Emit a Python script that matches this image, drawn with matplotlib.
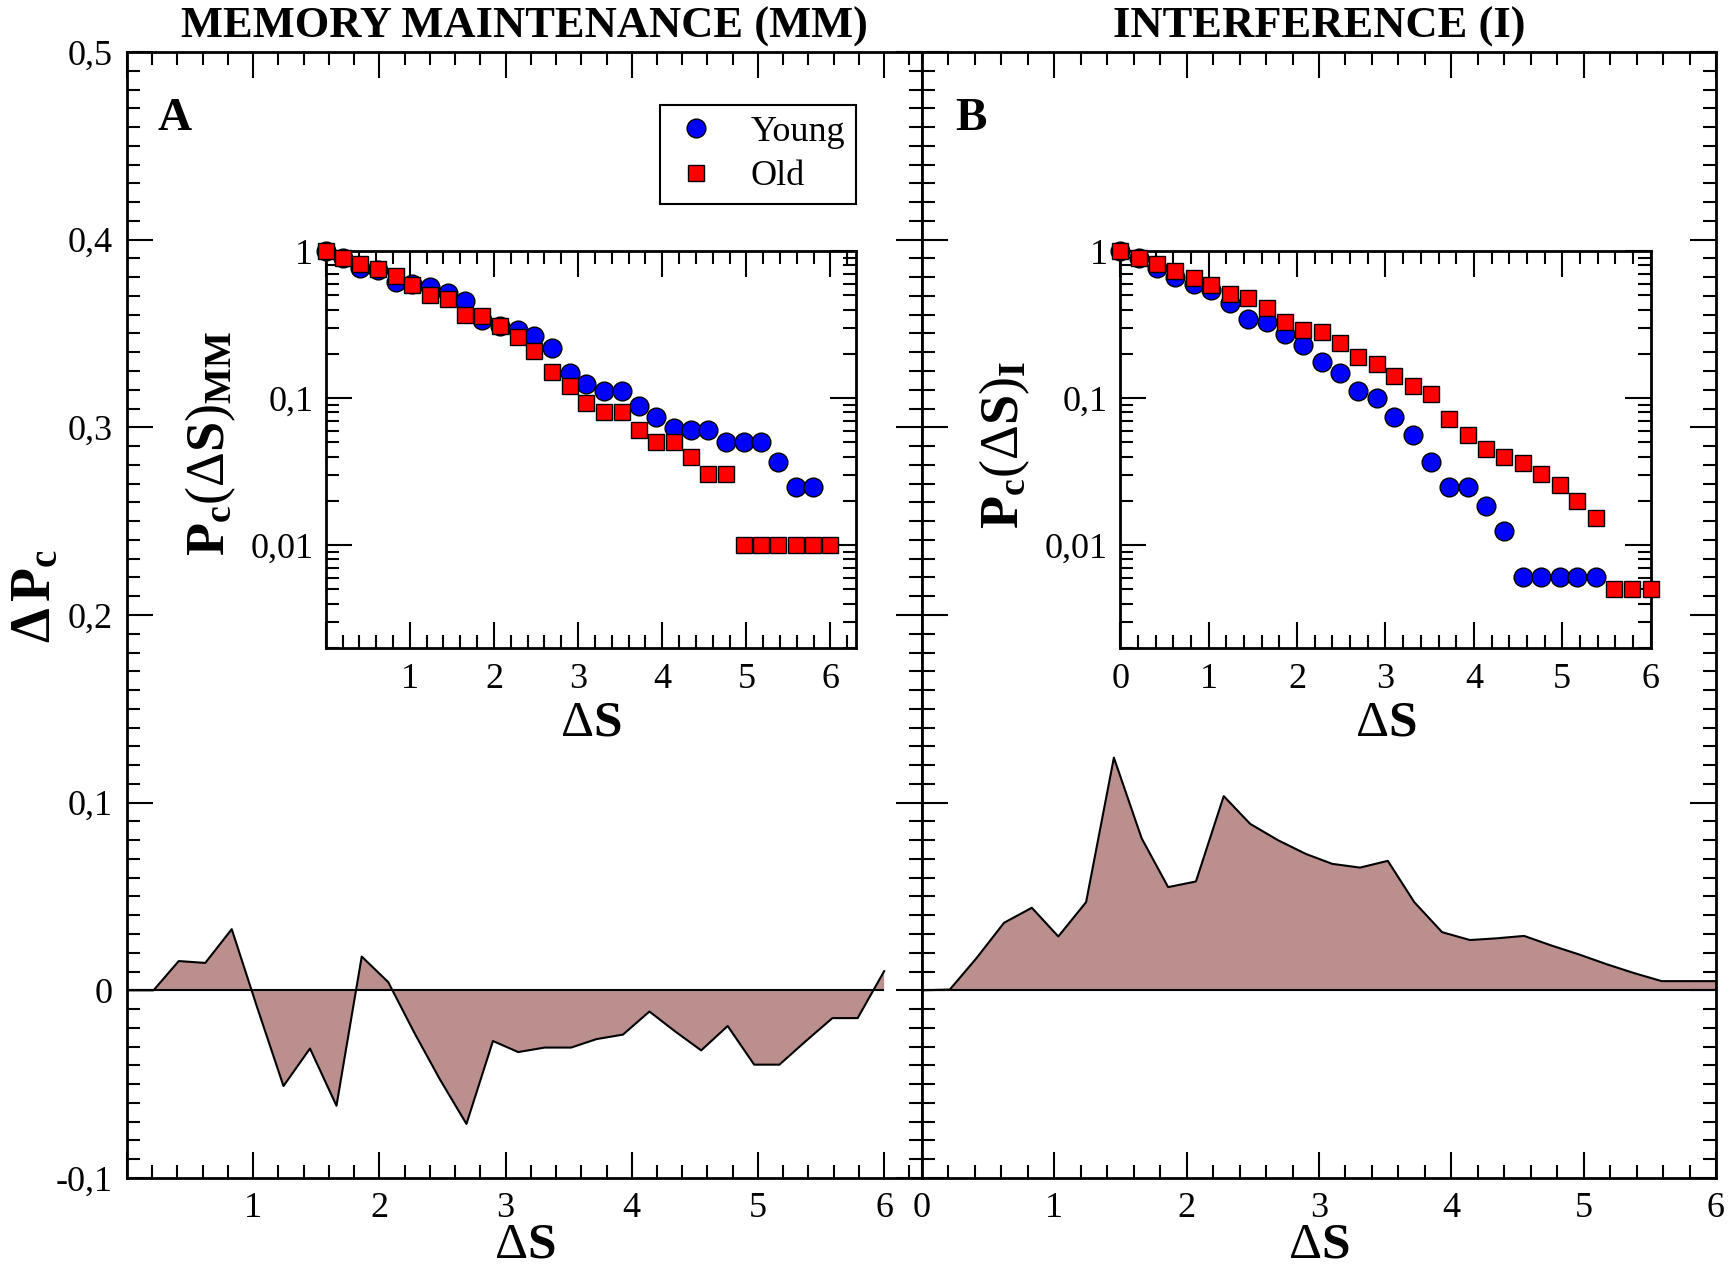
import matplotlib
matplotlib.use('Agg')
import matplotlib.pyplot as plt
from matplotlib.ticker import MultipleLocator, FixedLocator, LogLocator, FuncFormatter, NullFormatter

plt.rcParams['font.family'] = ['Liberation Serif', 'DejaVu Serif']
plt.rcParams['mathtext.fontset'] = 'custom'
plt.rcParams['mathtext.rm'] = 'Liberation Serif'
plt.rcParams['mathtext.bf'] = 'Liberation Serif:bold'
plt.rcParams['mathtext.it'] = 'Liberation Serif:italic'

# Delta S bins
ds = [0.0, 0.21, 0.41, 0.62, 0.83, 1.03, 1.24, 1.45, 1.66, 1.86, 2.07, 2.28, 2.48,
      2.69, 2.90, 3.10, 3.31, 3.52, 3.72, 3.93, 4.14, 4.34, 4.55, 4.76, 4.97, 5.17,
      5.38, 5.59, 5.79, 6.0]

# panel A: memory maintenance
dpc_mm = [0.0, 0.0, 0.0156, 0.0146, 0.0326, -0.0088, -0.0510, -0.031, -0.0615, 0.018,
          0.0044, -0.023, -0.0475, -0.0712, -0.027, -0.0329, -0.0305, -0.0305, -0.026,
          -0.0236, -0.0113, -0.0217, -0.032, -0.019, -0.0396, -0.0396, -0.027, -0.0148,
          -0.0148, 0.0102]
young_mm = [1.0, 0.894, 0.767, 0.74, 0.62, 0.60, 0.57, 0.52, 0.455, 0.337, 0.31, 0.29,
            0.266, 0.22, 0.149, 0.125, 0.111, 0.111, 0.088, 0.074, 0.063, 0.061, 0.061,
            0.050, 0.050, 0.050, 0.037, 0.0249, 0.0249]
old_mm = [1.0, 0.894, 0.81, 0.75, 0.68, 0.59, 0.50, 0.47, 0.37, 0.36, 0.31, 0.26, 0.21,
          0.151, 0.12, 0.092, 0.080, 0.080, 0.061, 0.050, 0.050, 0.040, 0.0306, 0.0306,
          0.010, 0.010, 0.010, 0.010, 0.010, 0.010]

# panel B: interference
dpc_i = [0.0, 0.0004, 0.017, 0.036, 0.044, 0.0287, 0.047, 0.124, 0.081, 0.055, 0.058,
         0.1035, 0.0887, 0.080, 0.0727, 0.0674, 0.0654, 0.069, 0.047, 0.031, 0.0268,
         0.0277, 0.029, 0.0238, 0.019, 0.014, 0.0092, 0.0049, 0.0049, 0.0049]
young_i = [1.0, 0.894, 0.767, 0.667, 0.60, 0.54, 0.445, 0.344, 0.327, 0.273, 0.229,
           0.177, 0.149, 0.111, 0.100, 0.074, 0.056, 0.037, 0.0249, 0.0249, 0.0186,
           0.0125, 0.0061, 0.0061, 0.0061, 0.0061, 0.0061]
old_i = [1.0, 0.894, 0.81, 0.73, 0.66, 0.59, 0.51, 0.477, 0.41, 0.33, 0.29, 0.28, 0.238,
         0.19, 0.171, 0.142, 0.12, 0.106, 0.072, 0.056, 0.045, 0.040, 0.036, 0.0305,
         0.0255, 0.020, 0.0152, 0.0050, 0.0050, 0.0050]

W, H = 1733, 1274


def rect(l, t, r, b):
    # pixel box (from top-left) -> figure fraction
    return [l / W, 1 - b / H, (r - l) / W, (b - t) / H]


def comma(v, pos=None):
    return ('%g' % v).replace('.', ',')


def comma_no0(v, pos=None):
    if abs(v) < 1e-9:
        return ''
    return comma(v)


def style(ax, xfmt):
    for s in ax.spines.values():
        s.set_linewidth(2)
    ax.tick_params(which='both', direction='in', top=True, right=True, width=1.5,
                   labelsize=26)
    ax.tick_params(which='major', length=19)
    ax.tick_params(which='minor', length=9.5)
    ax.xaxis.set_major_locator(MultipleLocator(1))
    ax.xaxis.set_minor_locator(MultipleLocator(0.2))
    ax.xaxis.set_major_formatter(FuncFormatter(xfmt))


fig = plt.figure(figsize=(W / 100, H / 100), dpi=100)

panels = [
    (rect(127, 52, 922, 1178), rect(325.7, 251, 855.7, 648), 6.3, dpc_mm, young_mm, old_mm, comma_no0, True),
    (rect(922, 52, 1716, 1178), rect(1120.3, 251, 1650.7, 648), 6.0, dpc_i, young_i, old_i, comma, False),
]

insets = []
for pos, ipos, xmax, dpc, young, old, xfmt, ylab in panels:
    ax = fig.add_axes(pos)
    ax.fill_between(ds, dpc, 0, facecolor='rosybrown', edgecolor='none')
    ax.plot(ds, dpc, color='black', lw=1.5)
    ax.hlines(0, ds[0], ds[-1], color='black', lw=1.5)
    ax.set_xlim(0, xmax)
    ax.set_ylim(-0.1, 0.5)
    style(ax, xfmt)
    ax.yaxis.set_major_locator(MultipleLocator(0.1))
    ax.yaxis.set_minor_locator(MultipleLocator(0.01))
    ax.yaxis.set_major_formatter(FuncFormatter(comma))
    ax.tick_params(axis='both', which='major', pad=10)
    if not ylab:
        ax.tick_params(labelleft=False)

    ins = fig.add_axes(ipos)
    ins.set_facecolor('white')
    ins.plot(ds[:len(young)], young, 'o', ms=13.5, mfc='blue', mec='black', mew=1,
             clip_on=False, label='Young', zorder=3)
    ins.plot(ds[:len(old)], old, 's', ms=12, mfc='red', mec='black', mew=1,
             clip_on=False, label='Old', zorder=4)
    ins.set_yscale('log')
    ins.set_xlim(0, xmax)
    ins.set_ylim(0.002, 1)
    style(ins, xfmt)
    ins.yaxis.set_major_locator(FixedLocator([0.01, 0.1, 1]))
    ins.yaxis.set_minor_locator(LogLocator(base=10, subs=[2, 3, 4, 5, 6, 7, 8, 9], numticks=20))
    ins.yaxis.set_major_formatter(FuncFormatter(comma))
    ins.yaxis.set_minor_formatter(NullFormatter())
    ins.tick_params(axis='y', which='major', pad=9)
    ins.tick_params(axis='x', which='major', pad=11)
    insets.append(ins)

handles, labels = insets[0].get_legend_handles_labels()
leg = fig.legend(handles, labels, loc='upper right',
                 bbox_to_anchor=(855.7 / W, 1 - 105 / H), borderaxespad=0,
                 fontsize=26, frameon=True, fancybox=False, edgecolor='black',
                 framealpha=1, borderpad=0.3, handlelength=1.4, handletextpad=0.8,
                 labelspacing=0.3, numpoints=1)
leg.get_frame().set_linewidth(1.5)

# titles and panel letters
fig.text(524.5 / W, 1 - 38 / H, 'MEMORY MAINTENANCE (MM)', ha='center', va='baseline',
         fontsize=32, fontweight='bold')
fig.text(1319 / W, 1 - 38 / H, 'INTERFERENCE (I)', ha='center', va='baseline',
         fontsize=32, fontweight='bold')
fig.text(158 / W, 1 - 130 / H, 'A', ha='left', va='baseline', fontsize=34, fontweight='bold')
fig.text(955 / W, 1 - 130 / H, 'B', ha='left', va='baseline', fontsize=34, fontweight='bold')

# axis labels
dS = r'$\mathrm{Δ}\mathbf{S}$'
fig.text(524.5 / W, 1 - 1258 / H, dS, ha='center', va='baseline', fontsize=37)
fig.text(1319 / W, 1 - 1258 / H, dS, ha='center', va='baseline', fontsize=37)
fig.text(590.7 / W, 1 - 736 / H, dS, ha='center', va='baseline', fontsize=37)
fig.text(1385.5 / W, 1 - 736 / H, dS, ha='center', va='baseline', fontsize=37)
fig.text(36 / W, 1 - 596 / H, r'$\mathbf{Δ\,P_c}$', rotation=90, ha='center', va='center',
         fontsize=40)
fig.text(211 / W, 1 - 443.5 / H, r'$\mathbf{P_c}\mathrm{(Δ}\mathbf{S}\mathrm{)}_{\mathbf{MM}}$',
         rotation=90, ha='center', va='center', fontsize=39)
fig.text(1005 / W, 1 - 445 / H, r'$\mathbf{P_c}\mathrm{(Δ}\mathbf{S}\mathrm{)}_{\mathbf{I}}$',
         rotation=90, ha='center', va='center', fontsize=39)

fig.savefig('out.png', dpi=100)
